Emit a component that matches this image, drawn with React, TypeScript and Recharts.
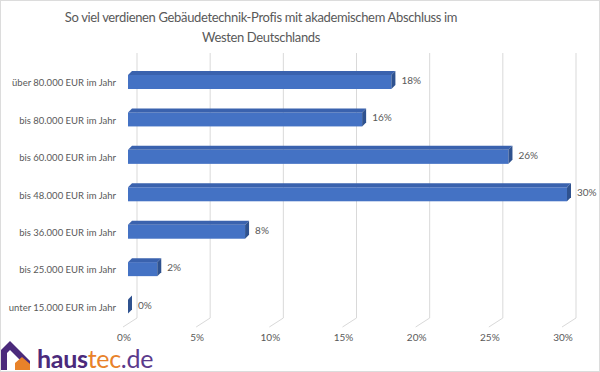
import { BarChart, Bar, XAxis, YAxis, CartesianGrid, LabelList } from "recharts";

const categories = [
  "über 80.000 EUR im Jahr",
  "bis 80.000 EUR im Jahr",
  "bis 60.000 EUR im Jahr",
  "bis 48.000 EUR im Jahr",
  "bis 36.000 EUR im Jahr",
  "bis 25.000 EUR im Jahr",
  "unter 15.000 EUR im Jahr",
];
const shares = [18, 16, 26, 30, 8, 2, 0];
const xTicks = [0, 5, 10, 15, 20, 25, 30];

const data = categories.map((name, i) => ({ name, value: shares[i] }));

const FONT = "Lato, Carlito, 'Open Sans', sans-serif";
const TEXT = "#595959";
const DEPTH = 4;

// front face + top face + right side, like the excel 3d bars
function Bar3D(props: any) {
  const { x, y, height } = props;
  const w = Math.max(props.width || 0, 0);
  const d = DEPTH;
  return (
    <g>
      {w > 0 && <rect x={x} y={y} width={w} height={height} fill="#4472C4" />}
      {w > 0 && (
        <polygon
          points={`${x},${y} ${x + d},${y - d} ${x + w + d},${y - d} ${x + w},${y}`}
          fill="#3A62AE"
        />
      )}
      <polygon
        points={`${x + w},${y} ${x + w + d},${y - d} ${x + w + d},${y + height - d} ${x + w},${y + height}`}
        fill="#2F528F"
      />
    </g>
  );
}

function GridLine(props: any) {
  const { x1, y1, y2 } = props;
  return (
    <g>
      <line x1={x1 + 9} y1={y1 - 10} x2={x1 + 9} y2={y2 - 7} stroke="#d9d9d9" />
      <line x1={x1 + 9} y1={y2 - 7} x2={x1 - 5} y2={y2 + 2} stroke="#d9d9d9" />
    </g>
  );
}

function XTick(props: any) {
  const { x, y, payload } = props;
  return (
    <text x={x - 4} y={y} dy={8} textAnchor="middle" fontSize={10} fill={TEXT} fontFamily={FONT}>
      {payload.value}%
    </text>
  );
}

function YTick(props: any) {
  const { y, payload } = props;
  return (
    <text x={116} y={y + 1} dominantBaseline="central" textAnchor="end" fontSize={9.5} fill={TEXT} fontFamily={FONT}>
      {payload.value}
    </text>
  );
}

function ValueLabel(props: any) {
  const { x, y, width, height, value } = props;
  return (
    <text
      x={x + width + 10}
      y={y + height / 2 - 2}
      dominantBaseline="central"
      fontSize={10}
      fill={TEXT}
      fontFamily={FONT}
    >
      {value}%
    </text>
  );
}

function Logo() {
  return (
    <div style={{ position: "absolute", left: 0, bottom: 1, height: 30, display: "flex", alignItems: "flex-end" }}>
      <svg width={32} height={30} style={{ marginRight: 5, marginBottom: 1 }}>
        <polygon points="1,30 1,10 10,1 30,21 30,30" fill="#4B2A7B" />
        <polygon points="7,30 7,13 10,10 24,24 24,30" fill="#fff" />
        <polygon points="15,30 15,23 22,17 30,24 30,30" fill="#E8822A" />
      </svg>
      <span style={{ fontFamily: FONT, fontSize: 25, lineHeight: "26px", letterSpacing: -0.3 }}>
        <span style={{ color: "#4B2A7B", fontWeight: 700 }}>haus</span>
        <span style={{ color: "#E8822A" }}>tec</span>
        <span style={{ color: "#5B3A8C" }}>.de</span>
      </span>
    </div>
  );
}

export default function App() {
  return (
    <div style={{ position: "absolute", left: 0, top: 0, width: 600, height: 372, background: "#fff", overflow: "hidden" }}>
      <div
        style={{
          position: "absolute",
          left: 0,
          top: 7,
          width: 522,
          textAlign: "center",
          fontFamily: FONT,
          fontSize: 13,
          letterSpacing: -0.35,
          lineHeight: "20px",
          color: TEXT,
        }}
      >
        So viel verdienen Gebäudetechnik-Profis mit akademischem Abschluss im
        <br />
        Westen Deutschlands
      </div>
      <BarChart
        width={600}
        height={372}
        data={data}
        layout="vertical"
        margin={{ top: 63, right: 33, bottom: 17, left: 0 }}
      >
        <CartesianGrid horizontal={false} vertical={GridLine} />
        <XAxis
          type="number"
          domain={[0, 30]}
          ticks={xTicks}
          axisLine={false}
          tickLine={false}
          height={30}
          tick={<XTick />}
        />
        <YAxis
          type="category"
          dataKey="name"
          width={128}
          axisLine={false}
          tickLine={false}
          tick={<YTick />}
        />
        <Bar dataKey="value" barSize={14} shape={Bar3D} isAnimationActive={false}>
          <LabelList dataKey="value" content={ValueLabel} />
        </Bar>
      </BarChart>
      <Logo />
      <div style={{ position: "absolute", inset: 0, border: "1px solid #dcdcdc", pointerEvents: "none" }} />
    </div>
  );
}
